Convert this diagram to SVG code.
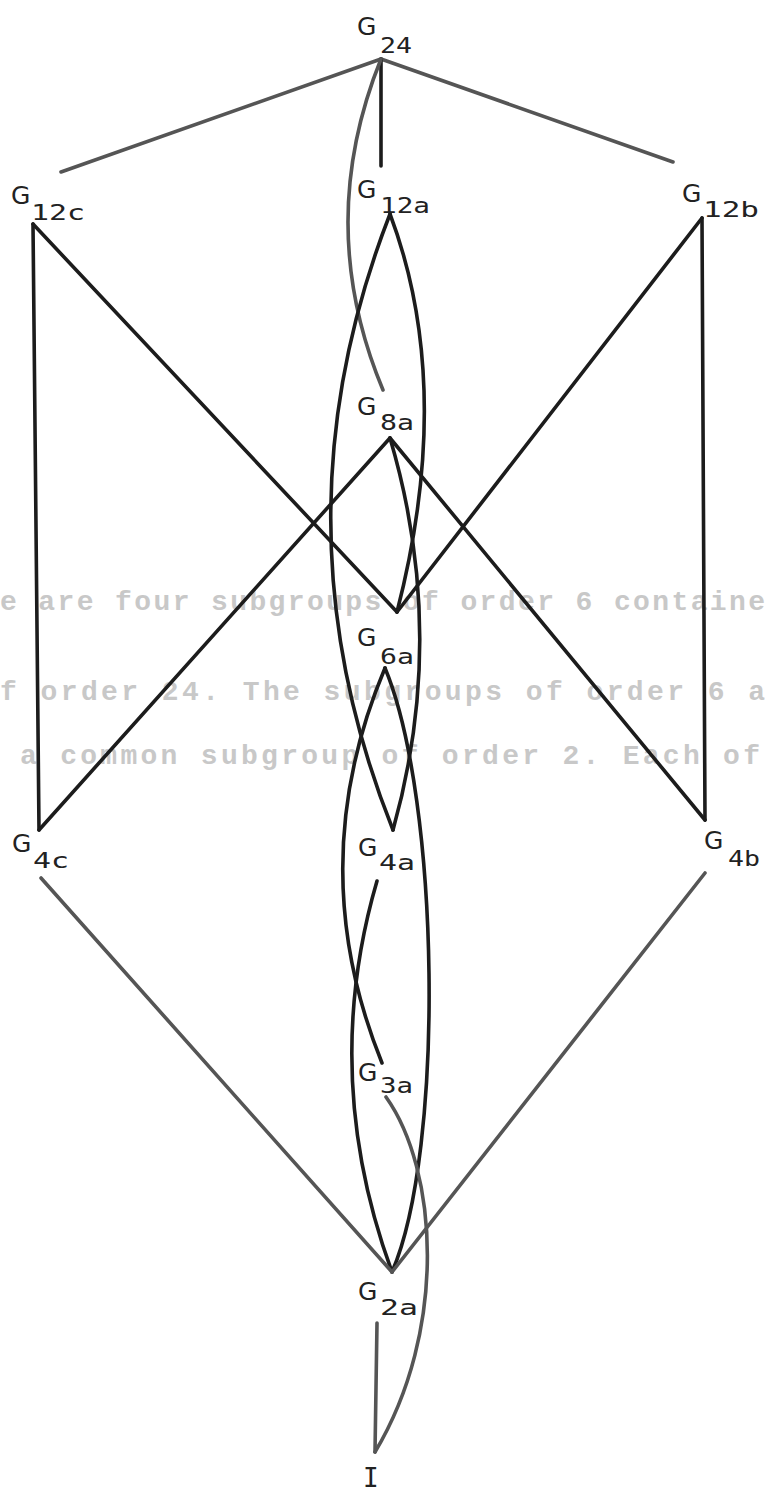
<svg xmlns="http://www.w3.org/2000/svg" width="765" height="1495" viewBox="0 0 765 1495">
<style>
.bg{fill:#ffffff}
.ln{fill:none;stroke-width:3.6;stroke-linecap:round;stroke-linejoin:round}
.k{stroke:#1c1c1c}
.g{stroke:#555555}
.lab{font-family:"DejaVu Sans Mono","Liberation Mono",monospace;fill:#222222}
.G{font-family:"DejaVu Sans","Liberation Sans",sans-serif;font-size:25px}
.s{font-size:21px}
.bleed{font-family:"Liberation Mono","DejaVu Sans Mono",monospace;font-size:28px;font-weight:bold;fill:#c8c8c8}
</style>
<rect class="bg" x="0" y="0" width="765" height="1495"/>
<g id="bleed-through">
<text class="bleed" x="0" y="610" textLength="765" lengthAdjust="spacing">e are four subgroups of order 6 containe</text>
<text class="bleed" x="0" y="700" textLength="765" lengthAdjust="spacing">f order 24.  The subgroups of order 6 a</text>
<text class="bleed" x="20" y="764" textLength="740" lengthAdjust="spacing">a common subgroup of order 2.  Each of</text>
</g>
<g id="connectors">
<line class="ln g" x1="381" y1="59" x2="61" y2="172"/>
<line class="ln g" x1="381" y1="59" x2="673" y2="162"/>
<line class="ln k" x1="381" y1="59" x2="381" y2="166"/>
<path class="ln g" d="M381,59 Q314,225 383,390"/>
<line class="ln k" x1="33" y1="224" x2="39" y2="830"/>
<line class="ln k" x1="33" y1="224" x2="397" y2="612"/>
<line class="ln k" x1="702" y1="218" x2="705" y2="820"/>
<line class="ln k" x1="702" y1="218" x2="397" y2="612"/>
<line class="ln k" x1="390" y1="438" x2="39" y2="830"/>
<line class="ln k" x1="390" y1="438" x2="705" y2="820"/>
<path class="ln k" d="M390,214 Q270,522 393,830"/>
<path class="ln k" d="M390,214 Q455,387 397,612"/>
<path class="ln k" d="M390,438 Q448,634 393,830"/>
<path class="ln k" d="M385,668 Q302,865 382,1063"/>
<path class="ln k" d="M377,881 Q320,1076 392,1272"/>
<path class="ln k" d="M385,668 C440,800 445,1150 392,1272"/>
<path class="ln g" d="M386,1097 C438,1170 448,1330 375,1452"/>
<line class="ln g" x1="377" y1="1323" x2="375" y2="1452"/>
<line class="ln g" x1="41" y1="878" x2="392" y2="1272"/>
<line class="ln g" x1="705" y1="873" x2="392" y2="1272"/>
</g>
<g id="G24" class="lab"><text class="G" x="357" y="35">G</text><text class="s" x="380" y="53" textLength="32" lengthAdjust="spacingAndGlyphs">24</text></g>
<g id="G12c" class="lab"><text class="G" x="11" y="204">G</text><text class="s" x="31" y="220" textLength="54" lengthAdjust="spacingAndGlyphs">12c</text></g>
<g id="G12a" class="lab"><text class="G" x="357" y="198">G</text><text class="s" x="380" y="213" textLength="50" lengthAdjust="spacingAndGlyphs">12a</text></g>
<g id="G12b" class="lab"><text class="G" x="682" y="202">G</text><text class="s" x="703" y="217" textLength="56" lengthAdjust="spacingAndGlyphs">12b</text></g>
<g id="G8a" class="lab"><text class="G" x="357" y="415">G</text><text class="s" x="380" y="430" textLength="34" lengthAdjust="spacingAndGlyphs">8a</text></g>
<g id="G6a" class="lab"><text class="G" x="357" y="646">G</text><text class="s" x="380" y="664" textLength="34" lengthAdjust="spacingAndGlyphs">6a</text></g>
<g id="G4c" class="lab"><text class="G" x="12" y="852">G</text><text class="s" x="33" y="868" textLength="36" lengthAdjust="spacingAndGlyphs">4c</text></g>
<g id="G4a" class="lab"><text class="G" x="358" y="856">G</text><text class="s" x="379" y="870" textLength="36" lengthAdjust="spacingAndGlyphs">4a</text></g>
<g id="G4b" class="lab"><text class="G" x="704" y="849">G</text><text class="s" x="728" y="866" textLength="32" lengthAdjust="spacingAndGlyphs">4b</text></g>
<g id="G3a" class="lab"><text class="G" x="358" y="1081">G</text><text class="s" x="380" y="1093" textLength="33" lengthAdjust="spacingAndGlyphs">3a</text></g>
<g id="G2a" class="lab"><text class="G" x="358" y="1300">G</text><text class="s" x="380" y="1315" textLength="38" lengthAdjust="spacingAndGlyphs">2a</text></g>
<g id="I" class="lab"><text x="363" y="1487" style="font-size:26px">I</text></g>
</svg>
